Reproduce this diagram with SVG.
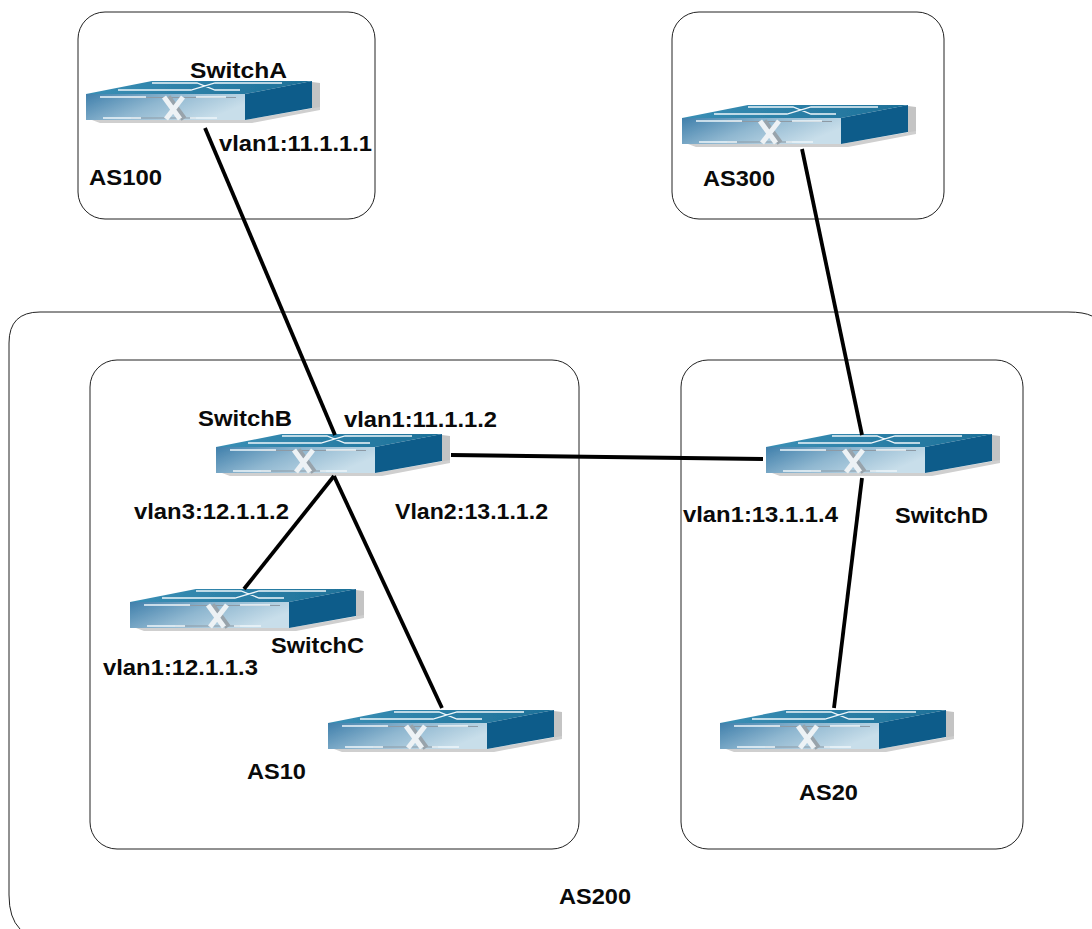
<svg xmlns="http://www.w3.org/2000/svg" width="1092" height="929" viewBox="0 0 1092 929">
<style>
.box{fill:none;stroke:#222;stroke-width:1}
.link{stroke:#000;stroke-width:3.8;fill:none}
.wl{stroke:#eef6fa;stroke-width:1.3;fill:none}
text{font-family:"Liberation Sans",Arial,sans-serif;font-weight:700;font-size:22px;fill:#0a0a0a}
</style>
<defs>
<linearGradient id="front" x1="0" y1="0" x2="1" y2="0.4"><stop offset="0" stop-color="#3f7fab"/><stop offset="0.5" stop-color="#8fb7d0"/><stop offset="1" stop-color="#c8deea"/></linearGradient>
<linearGradient id="top" x1="0" y1="0" x2="1" y2="0"><stop offset="0" stop-color="#3a8fb5"/><stop offset="1" stop-color="#1d7098"/></linearGradient>
<filter id="soft" x="-2%" y="-5%" width="104%" height="110%"><feGaussianBlur stdDeviation="0.5"/></filter>
<symbol id="sw" width="240" height="46" viewBox="0 0 240 46" overflow="visible">
<g filter="url(#soft)">
<path d="M226 1L234 2L234 27L226 30Z" fill="#c4c4c4"/>
<path d="M6 39H159L234 26L234 29L166 42H14Z" fill="#cfcfcf"/>
<path d="M0 13L66 0L226 0L159 13Z" fill="url(#top)"/>
<path d="M0 13L159 13L159 39L0 39Z" fill="url(#front)"/>
<path d="M159 13L226 0L226 27L159 39Z" fill="#0b5c8a"/>
<path class="wl" d="M32 9H105L129 2H196M66 2H111L129 9H154"/>
<path d="M45 16.500H150M45 37H110" stroke="#8d9aa5" stroke-width="1" fill="none"/>
<path class="wl" d="M14 16H60M110 16H140M17 37H55M104 37H131"/>
<path d="M82 16L98 38" stroke="#98a3ab" stroke-width="6" fill="none"/>
<path d="M78 16L94 38M97 16L80 38" stroke="#edf2f5" stroke-width="5" fill="none"/>
</g>
</symbol>
</defs>
<g id="regions">
<g id="as100"><rect class="box" x="78" y="12" width="297" height="207" rx="27"/></g>
<g id="as300"><rect class="box" x="672" y="12" width="272" height="207" rx="27"/></g>
<g id="as200"><path class="box" d="M40 312H1068Q1084 312 1092 316M20 929Q9 918 9 895V343Q9 312 40 312"/></g>
<g id="as10"><rect class="box" x="90" y="360" width="489" height="489" rx="27"/></g>
<g id="as20"><rect class="box" x="681" y="360" width="342" height="489" rx="27"/></g>
</g>
<g id="switch-a"><use href="#sw" x="86" y="81"/></g>
<g id="switch-as300"><use href="#sw" x="682" y="105"/></g>
<g id="switch-b"><use href="#sw" x="216" y="434"/></g>
<g id="switch-c"><use href="#sw" x="130" y="589"/></g>
<g id="switch-as10"><use href="#sw" x="328" y="710"/></g>
<g id="switch-d"><use href="#sw" x="766" y="434"/></g>
<g id="switch-as20"><use href="#sw" x="720" y="710"/></g>
<g id="connectors">
<path class="link" d="M205 128L335 435"/>
<path class="link" d="M802 149L862 435"/>
<path class="link" d="M451 455L763 459"/>
<path class="link" d="M334 476L244 589"/>
<path class="link" d="M334 476L442 708"/>
<path class="link" d="M862 478L834 708"/>
</g>
<g id="labels">
<text x="190" y="78" textLength="97" lengthAdjust="spacingAndGlyphs">SwitchA</text>
<text x="219" y="151" textLength="153" lengthAdjust="spacingAndGlyphs">vlan1:11.1.1.1</text>
<text x="89" y="185" textLength="73" lengthAdjust="spacingAndGlyphs">AS100</text>
<text x="703" y="186" textLength="72" lengthAdjust="spacingAndGlyphs">AS300</text>
<text x="198" y="426" textLength="94" lengthAdjust="spacingAndGlyphs">SwitchB</text>
<text x="344" y="427" textLength="153" lengthAdjust="spacingAndGlyphs">vlan1:11.1.1.2</text>
<text x="134" y="519" textLength="155" lengthAdjust="spacingAndGlyphs">vlan3:12.1.1.2</text>
<text x="395" y="519" textLength="153" lengthAdjust="spacingAndGlyphs">Vlan2:13.1.1.2</text>
<text x="683" y="522" textLength="155" lengthAdjust="spacingAndGlyphs">vlan1:13.1.1.4</text>
<text x="895" y="523" textLength="93" lengthAdjust="spacingAndGlyphs">SwitchD</text>
<text x="271" y="653" textLength="93" lengthAdjust="spacingAndGlyphs">SwitchC</text>
<text x="103" y="675" textLength="155" lengthAdjust="spacingAndGlyphs">vlan1:12.1.1.3</text>
<text x="247" y="779" textLength="59" lengthAdjust="spacingAndGlyphs">AS10</text>
<text x="799" y="800" textLength="59" lengthAdjust="spacingAndGlyphs">AS20</text>
<text x="559" y="904" textLength="72" lengthAdjust="spacingAndGlyphs">AS200</text>
</g>
</svg>
